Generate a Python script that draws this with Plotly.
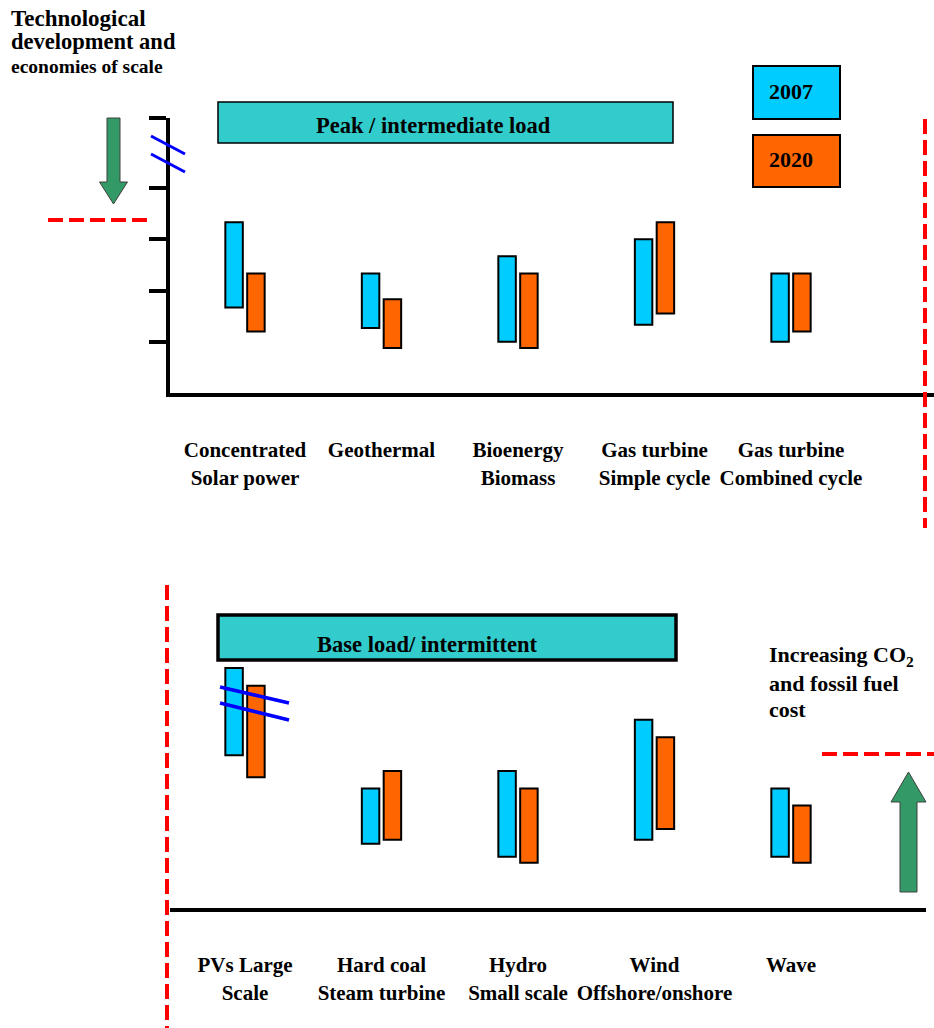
import plotly.graph_objects as go

# ---------------- data (cost units) ----------------
TOP_TECH = ["Concentrated<br>Solar power", "Geothermal", "Bioenergy<br>Biomass",
            "Gas turbine<br>Simple cycle", "Gas turbine<br>Combined cycle"]
TOP_2007_LOW = [1.67, 1.27, 1.00, 1.33, 1.00]
TOP_2007_HIGH = [3.33, 2.33, 2.67, 3.00, 2.33]
TOP_2020_LOW = [1.20, 0.88, 0.88, 1.55, 1.20]
TOP_2020_HIGH = [2.33, 1.83, 2.33, 3.33, 2.33]

BOT_TECH = ["PVs Large<br>Scale", "Hard coal<br>Steam turbine", "Hydro<br>Small scale",
            "Wind<br>Offshore/onshore", "Wave"]
BOT_2007_LOW = [2.98, 1.25, 1.00, 1.33, 1.00]
BOT_2007_HIGH = [4.68, 2.33, 2.67, 3.67, 2.33]
BOT_2020_LOW = [2.55, 1.33, 0.88, 1.54, 0.88]
BOT_2020_HIGH = [4.33, 2.67, 2.33, 3.33, 2.00]

Y_TICKS = [1, 2, 3, 4, 5.36]
SERIES = ["2007", "2020"]

# ---------------- layout constants ----------------
W, H = 934, 1028
UNIT = 51.3          # px per cost unit
X0_PX, STEP_PX = 245.0, 136.5   # category 0 position and category spacing (px)
C2007, C2020 = "#00CCFF", "#FF6600"
TEAL, GREEN, RED, BLUE = "#33CCCC", "#339966", "#FF0000", "#0000FF"
FONT = "Liberation Serif"


def px(x):
    return x / W


def py(y):
    return 1 - y / H


def xrange_for(left_px, right_px):
    return [(left_px - X0_PX) / STEP_PX, (right_px - X0_PX) / STEP_PX]


fig = go.Figure()


def add_pair(cats, lo07, hi07, lo20, hi20, xa, ya):
    for name, lo, hi, col in ((SERIES[0], lo07, hi07, C2007), (SERIES[1], lo20, hi20, C2020)):
        fig.add_trace(go.Bar(
            x=cats, y=[h - l for l, h in zip(lo, hi)], base=lo, name=name,
            marker=dict(color=col, line=dict(color="black", width=2)),
            xaxis=xa, yaxis=ya, showlegend=False, hoverinfo="skip"))


add_pair(TOP_TECH, TOP_2007_LOW, TOP_2007_HIGH, TOP_2020_LOW, TOP_2020_HIGH, "x", "y")
add_pair(BOT_TECH, BOT_2007_LOW, BOT_2007_HIGH, BOT_2020_LOW, BOT_2020_HIGH, "x2", "y2")

tickfont = dict(family=FONT, size=21, color="black", weight="bold")
common_x = dict(showline=True, linewidth=4, linecolor="black", ticks="outside",
                ticklen=35, tickcolor="rgba(0,0,0,0)", showgrid=False, zeroline=False,
                tickfont=tickfont, type="category", fixedrange=True)

top_range = [0, (393 - 118) / UNIT + 0.005]
fig.update_layout(
    width=W, height=H, margin=dict(l=0, r=0, t=0, b=0),
    paper_bgcolor="white", plot_bgcolor="white",
    barmode="group", bargap=0.68, bargroupgap=0.2,
    font=dict(family=FONT, size=21, color="black"),
    xaxis=dict(domain=[px(170), 1], range=xrange_for(170, W), anchor="y", **common_x),
    yaxis=dict(domain=[py(393), py(118)], range=top_range, anchor="x",
               showline=True, linewidth=4, linecolor="black", ticks="outside",
               ticklen=17, tickwidth=4, tickcolor="black", tickvals=Y_TICKS,
               showticklabels=False, showgrid=False, zeroline=False),
    yaxis3=dict(overlaying="y", range=top_range, anchor="x", side="left",
                ticks="inside", ticklen=17, tickwidth=4, tickcolor="black",
                tickvals=Y_TICKS, showticklabels=False, showline=False,
                showgrid=False, zeroline=False),
    xaxis2=dict(domain=[px(170), px(926)], range=xrange_for(170, 926), anchor="y2", **common_x),
    yaxis2=dict(domain=[py(908), py(600)], range=[0, (908 - 600) / UNIT], anchor="x2",
                visible=False),
)

shapes = []
ann = []


def rect(x0, y0, x1, y1, fill, lw):
    shapes.append(dict(type="rect", xref="paper", yref="paper",
                       x0=px(x0), x1=px(x1), y0=py(y1), y1=py(y0),
                       fillcolor=fill, line=dict(color="black", width=lw)))


def line(x0, y0, x1, y1, color, width, dash=None):
    d = dict(type="line", xref="paper", yref="paper",
             x0=px(x0), y0=py(y0), x1=px(x1), y1=py(y1),
             line=dict(color=color, width=width))
    if dash:
        d["line"]["dash"] = dash
    shapes.append(d)


def text(x, y, s, size=22, anchor="left"):
    ann.append(dict(xref="paper", yref="paper", x=px(x), y=py(y), text=s,
                    showarrow=False, xanchor=anchor, yanchor="middle", align="left",
                    font=dict(family=FONT, size=size, color="black", weight="bold")))


def arrow(cx, shaft_half, head_half, y_start, y_neck, y_tip):
    pts = [(cx - shaft_half, y_start), (cx - shaft_half, y_neck), (cx - head_half, y_neck),
           (cx, y_tip), (cx + head_half, y_neck), (cx + shaft_half, y_neck),
           (cx + shaft_half, y_start)]
    path = "M " + " L ".join(f"{px(a):.5f},{py(b):.5f}" for a, b in pts) + " Z"
    shapes.append(dict(type="path", xref="paper", yref="paper", path=path,
                       fillcolor=GREEN, line=dict(color="#404040", width=1)))


# title boxes
rect(218, 102, 673, 143, TEAL, 1.5)
text(433, 125, "Peak / intermediate load", 22.5, "center")
rect(218, 615, 676, 660, TEAL, 3.5)
text(427, 644, "Base load/ intermittent", 22.5, "center")

# legend boxes
rect(753, 66, 840, 119, C2007, 2)
text(767, 91, SERIES[0], 22)
rect(753, 135, 840, 187, C2020, 2)
text(767, 159, SERIES[1], 22)

# red dashed guides
dash = "15px,6px"
line(48, 220, 150, 220, RED, 4, dash)
line(925, 119, 925, 528, RED, 4, dash)
line(167, 585, 167, 1028, RED, 4, dash)
line(822, 754, 934, 754, RED, 4, dash)

# axis break marks
line(151, 136, 185, 154, BLUE, 3)
line(151, 154, 185, 172, BLUE, 3)
line(220, 687, 289, 703, BLUE, 3.5)
line(220, 703, 289, 720, BLUE, 3.5)

# green arrows
arrow(113.5, 6.5, 14, 118, 182, 204)
arrow(908.5, 8.5, 17.5, 892, 802, 772)

# side texts
text(9, 18, "Technological", 23)
text(9, 42, "development and", 22.5)
text(9, 66, "economies of scale", 19.5)
text(767, 656, "Increasing CO<sub>2</sub>", 22)
text(767, 683, "and fossil fuel", 22)
text(767, 709, "cost", 22)

fig.update_layout(shapes=shapes, annotations=ann)
fig.write_html("out.html", config={"displayModeBar": False},
               post_script="document.body.style.margin='0';document.body.style.padding='0';")
